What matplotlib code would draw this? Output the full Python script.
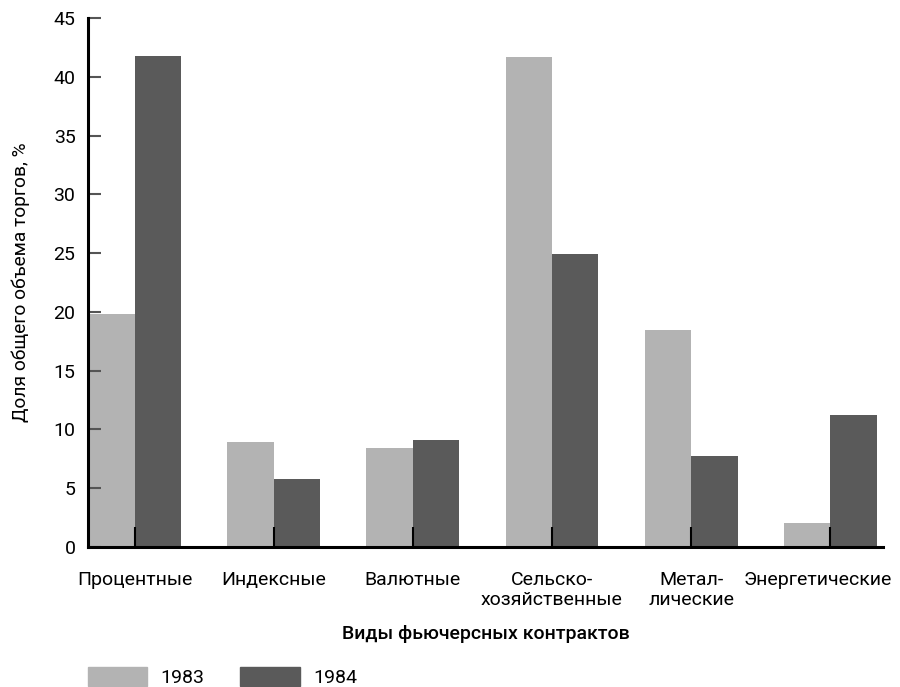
import matplotlib
matplotlib.use("Agg")
import matplotlib.pyplot as plt
import matplotlib.transforms as mtransforms
import numpy as np
from matplotlib.patches import Patch

plt.rcParams['font.family'] = ['Roboto', 'DejaVu Sans']

# Данные
categories = ["Процентные", "Индексные", "Валютные", "Сельско-\nхозяйственные",
              "Метал-\nлические", "Энергетические"]
years = ["1983", "1984"]
values_1983 = [19.8, 8.9, 8.4, 41.7, 18.5, 2.0]
values_1984 = [41.8, 5.8, 9.1, 24.9, 7.7, 11.2]
y_ticks = [0, 5, 10, 15, 20, 25, 30, 35, 40, 45]

light = "#b3b3b3"
dark = "#5a5a5a"
fs = 14

fig = plt.figure(figsize=(9, 6.87), dpi=100)
ax = fig.add_axes([88 / 900, 1 - 547 / 687, (883 - 88) / 900, (547 - 18) / 687])

x = np.arange(len(categories))
w = 0.334
ax.bar(x - w / 2, values_1983, width=w, color=light, zorder=1)
ax.bar(x + w / 2, values_1984, width=w, color=dark, zorder=1)

ax.set_xlim(-0.336, 5.38)
ax.set_ylim(0, 45)

for s in ["top", "right"]:
    ax.spines[s].set_visible(False)
ax.spines["left"].set_linewidth(2.2)
ax.spines["bottom"].set_linewidth(2.2)
ax.spines["left"].set_zorder(3)
ax.spines["bottom"].set_zorder(3)

ax.set_yticks(y_ticks)
ax.set_yticklabels([str(t) for t in y_ticks], fontsize=fs)
ax.tick_params(axis="y", direction="in", length=9.5, width=1.5, color="#555555", pad=9)

ax.set_xticks(x)
ax.set_xticklabels(categories, fontsize=fs, linespacing=1.15)
ax.tick_params(axis="x", direction="in", length=14.5, width=1.5, color="black", pad=17)

# последняя подпись сдвинута влево, чтобы поместилась
last = ax.get_xticklabels()[-1]
last.set_transform(last.get_transform() + mtransforms.ScaledTranslation(-0.12, 0, fig.dpi_scale_trans))

ax.set_ylabel("Доля общего объема торгов, %", fontsize=13.8, labelpad=17)
ax.set_xlabel("Виды фьючерсных контрактов", fontsize=14, fontweight="medium", labelpad=12)

handles = [Patch(color=light, label=years[0]), Patch(color=dark, label=years[1])]
fig.legend(handles=handles, loc="lower left", bbox_to_anchor=(88 / 900, 0.0), ncol=2,
           frameon=False, fontsize=fs, handlelength=3.05, handleheight=1.12,
           handletextpad=0.68, columnspacing=1.85, borderpad=0, borderaxespad=0)

fig.savefig("out.png", dpi=100)
